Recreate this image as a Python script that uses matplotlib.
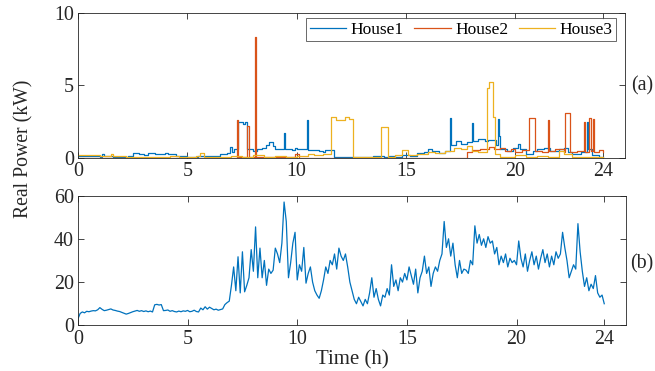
import matplotlib
matplotlib.use("Agg")
import matplotlib.pyplot as plt
import numpy as np

plt.rcParams['font.family'] = ['Liberation Serif', 'DejaVu Serif']

# ---------------- data ----------------
# House-level real power (kW), step breakpoints (time h, value)
house1_t = [0, 0.5, 1.0, 1.1, 1.2, 1.6, 2.3, 2.5, 2.8, 3.0, 3.2, 3.5, 3.8, 4.0, 4.1, 4.5, 5.0, 5.5, 6.0, 6.5,
            6.8, 6.95, 7.05, 7.15, 7.3, 7.55, 7.65, 7.75, 8.0, 8.2, 8.4, 8.6, 8.75, 8.9, 9.0, 9.4, 9.45, 9.8,
            9.9, 10.0, 10.45, 10.5, 11.0, 11.2, 11.3, 11.7, 12.5, 13.0, 13.5, 14.0, 14.2, 14.5, 14.8, 15.2,
            15.5, 15.8, 16.0, 16.2, 16.5, 16.8, 17.0, 17.05, 17.3, 17.5, 17.8, 18.0, 18.05, 18.3, 18.6, 18.75,
            19.1, 19.2, 19.25, 19.3, 19.6, 19.9, 20.1, 20.2, 20.5, 20.8, 21.0, 21.3, 21.6, 22.0, 22.2, 22.4,
            22.6, 23.0, 23.25, 23.3, 23.5, 23.8, 24.0]
house1_p = [0.12, 0.15, 0.1, 0.3, 0.15, 0.1, 0.15, 0.35, 0.3, 0.2, 0.35, 0.28, 0.25, 0.38, 0.25, 0.15, 0.1, 0.15,
            0.12, 0.25, 0.35, 0.75, 0.45, 0.6, 2.45, 2.35, 2.5, 0.6, 0.5, 0.6, 0.7, 0.9, 1.1, 0.8, 0.65, 1.7,
            0.6, 0.55, 0.7, 0.6, 2.65, 0.55, 0.5, 0.45, 0.55, 0.08, 0.05, 0.1, 0.12, 0.08, 0.15, 0.1, 0.2,
            0.15, 0.35, 0.45, 0.6, 0.5, 0.35, 0.5, 2.75, 0.9, 1.2, 1.0, 1.1, 2.4, 1.2, 1.3, 1.2, 1.25, 0.9,
            2.7, 1.5, 0.6, 0.5, 0.7, 1.0, 0.6, 0.3, 0.5, 0.6, 0.7, 0.5, 0.6, 0.7, 0.4, 0.3, 0.4, 2.45, 0.6,
            0.2, 0.1, 0.1]

house2_t = [0, 7.25, 7.32, 7.75, 7.8, 8.08, 8.15, 9.9, 10.1, 12.0, 17.8, 18.0, 18.4, 18.8, 19.0, 19.3, 19.5,
            19.8, 20.0, 20.3, 20.6, 20.9, 21.2, 21.48, 21.52, 21.8, 22.2, 22.25, 22.5, 22.8, 23.15, 23.2,
            23.38, 23.43, 23.53, 23.58, 23.8, 24.0]
house2_p = [0.03, 2.6, 0.1, 2.2, 0.05, 8.3, 0.05, 0.3, 0.03, 0.02, 0.4, 0.55, 0.6, 0.75, 0.6, 0.7, 0.5, 0.6,
            0.45, 0.55, 2.75, 0.5, 0.4, 2.6, 0.5, 0.6, 0.45, 3.1, 0.4, 0.5, 2.5, 0.4, 2.75, 0.5, 2.7, 0.4,
            0.55, 0.4]

house3_t = [0, 1.0, 1.5, 1.6, 2.2, 3.0, 3.5, 4.2, 4.6, 5.4, 5.6, 5.75, 6.3, 7.0, 7.5, 8.0, 8.5, 9.0, 9.5,
            10.0, 10.5, 10.8, 11.2, 11.55, 11.8, 12.0, 12.2, 12.4, 12.55, 13.0, 13.5, 13.85, 14.15, 14.5,
            14.8, 15.1, 15.5, 16.0, 16.3, 16.8, 17.2, 17.5, 17.8, 18.0, 18.3, 18.7, 18.8, 18.95, 19.05,
            19.3, 19.8, 20.0, 20.5, 21.0, 21.5, 22.0, 22.2, 22.6, 23.0, 24.0]
house3_p = [0.2, 0.15, 0.3, 0.12, 0.05, 0.1, 0.05, 0.12, 0.05, 0.15, 0.35, 0.1, 0.05, 0.15, 0.1, 0.2, 0.1,
            0.15, 0.1, 0.15, 0.3, 0.2, 0.3, 2.85, 2.6, 2.65, 2.85, 2.7, 0.08, 0.1, 0.05, 2.15, 0.1, 0.2,
            0.55, 0.2, 0.3, 0.45, 0.35, 0.5, 0.7, 0.6, 0.85, 0.5, 0.45, 4.8, 5.2, 2.8, 0.3, 0.1, 0.05, 0.2,
            0.1, 0.15, 0.1, 0.5, 0.3, 0.1, 0.05, 0.05]

# Aggregate real power (kW), every 0.1 h from 0 to 24 h
total_p = [
    3.0, 5.5, 6.2, 5.8, 6.5, 6.3, 6.6, 6.8, 6.7, 7.2,
    8.2, 7.4, 6.8, 7.0, 7.3, 7.6, 7.1, 6.9, 6.6, 6.4,
    6.0, 5.6, 5.2, 5.5, 5.9, 6.3, 6.6, 6.9, 6.5, 6.8,
    6.4, 6.7, 6.3, 6.6, 6.2, 9.5, 9.7, 9.4, 9.6, 6.8,
    6.9, 7.1, 6.5, 6.8, 6.4, 6.2, 6.6, 6.3, 6.7, 6.5,
    6.9, 6.3, 6.5, 7.0, 6.4, 6.2, 8.0, 7.2, 8.6, 7.5,
    8.4, 7.8, 7.2, 7.5, 7.0, 7.3, 7.6, 9.6, 10.5, 11.2,
    18.5, 27.0, 16.0, 31.7, 15.0, 34.0, 15.5, 18.5, 22.0, 35.0,
    25.0, 45.5, 22.0, 35.7, 22.0, 30.0, 18.5, 26.0, 24.0, 25.5,
    35.7, 33.0, 29.0, 38.0, 57.0, 48.0, 22.0, 29.0, 38.0, 43.0,
    21.0, 28.0, 25.0, 36.0, 19.5, 24.0, 27.0, 20.0, 16.0, 14.0,
    12.5, 16.0, 21.0, 27.0, 24.0, 30.0, 28.0, 33.0, 26.0, 35.7,
    32.0, 30.0, 33.0, 27.0, 20.0, 16.0, 12.0, 10.0, 13.0, 11.0,
    9.0, 12.0, 10.0, 15.0, 22.0, 13.0, 17.0, 12.0, 9.0, 14.0,
    13.0, 17.0, 14.0, 28.0, 18.0, 21.0, 16.0, 22.0, 20.0, 24.0,
    21.0, 27.0, 23.0, 19.0, 26.0, 15.0, 22.0, 25.0, 32.0, 24.0,
    27.0, 18.0, 24.0, 27.0, 25.0, 30.0, 33.0, 48.0, 36.0, 40.0,
    32.0, 38.0, 28.0, 22.0, 30.0, 24.0, 26.0, 25.5, 24.0, 30.0,
    28.0, 46.0, 38.0, 42.0, 37.0, 40.0, 36.0, 41.0, 38.0, 39.0,
    33.0, 36.0, 28.0, 32.0, 29.0, 33.0, 27.0, 31.0, 29.0, 30.0,
    28.0, 39.0, 31.0, 27.0, 33.0, 25.0, 30.0, 34.0, 28.0, 32.0,
    26.0, 31.0, 35.0, 29.0, 33.0, 27.0, 32.0, 28.0, 34.0, 31.0,
    33.0, 43.0, 36.0, 30.0, 22.0, 25.0, 28.0, 26.0, 47.0, 34.0,
    25.0, 18.0, 22.0, 16.0, 19.0, 17.0, 23.0, 15.0, 13.0, 14.0,
    10.0]
total_t = np.arange(len(total_p)) * 0.1

xticks = [0, 5, 10, 15, 20, 24]
yticks_a = [0, 5, 10]
yticks_b = [0, 20, 40, 60]

# ---------------- figure ----------------
c1, c2, c3 = '#0072BD', '#D95319', '#EDB120'
fs_tick = 14.4
fs_ylab = 14.2
fs_xlab = 15.0
fs_leg = 12.5
tc = '#262626'

fig = plt.figure(figsize=(6.55, 3.71), dpi=100)
ax1 = fig.add_axes([0.119, 0.574, 0.835, 0.392])
ax2 = fig.add_axes([0.119, 0.123, 0.837, 0.350])

ax1.step(house1_t, house1_p, where='post', color=c1, lw=0.9, label='House1')
ax1.step(house2_t, house2_p, where='post', color=c2, lw=0.9, label='House2')
ax1.step(house3_t, house3_p, where='post', color=c3, lw=0.9, label='House3')
ax2.plot(total_t, total_p, color=c1, lw=0.9)

ax1.set_ylim(0, 10)
ax1.set_yticks(yticks_a)
ax2.set_ylim(0, 60)
ax2.set_yticks(yticks_b)

for ax in (ax1, ax2):
    ax.set_xlim(0, 25)
    ax.set_xticks(xticks)
    ax.tick_params(direction='in', top=True, right=True, length=4, width=0.6,
                   colors=tc, labelsize=fs_tick, pad=3)
    for s in ax.spines.values():
        s.set_color(tc)
        s.set_linewidth(0.6)

leg = ax1.legend(loc='upper right', ncol=3, fontsize=fs_leg, frameon=True, fancybox=False,
                 edgecolor=tc, handlelength=2.1, handletextpad=0.25, columnspacing=0.6,
                 borderpad=0.2, borderaxespad=0.0, bbox_to_anchor=(0.9835, 0.9615))
leg.get_frame().set_linewidth(0.6)

ax2.set_xlabel('Time (h)', fontsize=fs_xlab, color=tc, labelpad=1)
fig.text(0.037, 0.598, 'Real Power (kW)', rotation=90, ha='center', va='center',
         fontsize=fs_ylab, color=tc)
fig.text(0.964, 0.768, '(a)', ha='left', va='center', fontsize=fs_tick, color=tc)
fig.text(0.962, 0.290, '(b)', ha='left', va='center', fontsize=fs_tick, color=tc)

fig.savefig('out.png', dpi=100)
